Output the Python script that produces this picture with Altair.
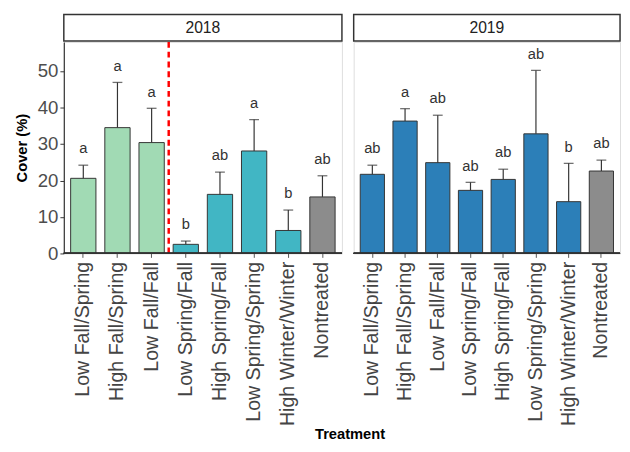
import altair as alt
import pandas as pd

treatments = ["Low Fall/Spring", "High Fall/Spring", "Low Fall/Fall", "Low Spring/Fall",
              "High Spring/Fall", "Low Spring/Spring", "High Winter/Winter", "Nontreated"]
group_2018 = ["Fall 2018", "Fall 2018", "Fall 2018", "Spring 2018", "Spring 2018",
              "Spring 2018", "Spring 2018", "Nontreated"]
cover_2018 = [20.6, 34.5, 30.4, 2.5, 16.2, 28.1, 6.3, 15.5]
upper_2018 = [24.2, 46.9, 39.8, 3.4, 22.3, 36.7, 11.9, 21.3]
letters_2018 = ["a", "a", "a", "b", "ab", "a", "b", "ab"]

group_2019 = ["Treated 2019"] * 7 + ["Nontreated"]
cover_2019 = [21.7, 36.3, 24.9, 17.3, 20.3, 32.8, 14.2, 22.6]
upper_2019 = [24.2, 39.7, 37.9, 19.5, 23.1, 50.2, 24.7, 25.6]
letters_2019 = ["ab", "a", "ab", "ab", "ab", "ab", "b", "ab"]

y_ticks = [0, 10, 20, 30, 40, 50]
divider_at = ["Low Spring/Fall"]

group_domain = ["Fall 2018", "Spring 2018", "Treated 2019", "Nontreated"]
group_range = ["#a1dab4", "#41b6c4", "#2c7fb8", "#8c8c8c"]

FONT = "Liberation Sans"
LEFT_W = 284
RIGHT_W = 272
H = 216
INNER = 0.26
OUTER = 0.2
DARK = "#333333"


def panel(year, cover, upper, letters, groups, width, show_y, divider):
    df = pd.DataFrame({"Treatment": treatments, "Cover": cover, "Upper": upper,
                       "Letter": letters, "Group": groups})
    step = width / (len(treatments) - INNER + 2 * OUTER)
    xscale = alt.Scale(domain=treatments, paddingInner=INNER, paddingOuter=OUTER)
    xaxis = alt.Axis(title=None, labelAngle=-90, labelFontSize=20, labelColor="#444444",
                     labelFont=FONT, tickColor="#555555", tickSize=4, labelPadding=4,
                     domain=False, grid=False)
    x = alt.X("Treatment:N", sort=treatments, scale=xscale, axis=xaxis)
    yscale = alt.Scale(domain=[0, 58], nice=False, zero=True)
    if show_y:
        yaxis = alt.Axis(values=y_ticks, title="Cover (%)", titleFontSize=15,
                         titleFontWeight="bold", titleColor="black", titleFont=FONT,
                         labelFontSize=19, labelColor="#4d4d4d", labelFont=FONT,
                         tickColor=DARK, tickSize=4, domainColor=DARK, domainWidth=1.2,
                         grid=False, labelPadding=2, titlePadding=8)
    else:
        yaxis = None
    base = alt.Chart(df)
    bars = base.mark_bar(stroke=DARK, strokeWidth=1).encode(
        x=x,
        y=alt.Y("Cover:Q", scale=yscale, axis=yaxis),
        color=alt.Color("Group:N", scale=alt.Scale(domain=group_domain, range=group_range),
                        legend=None),
    )
    err = base.mark_rule(color=DARK, strokeWidth=1.2).encode(
        x=x, y=alt.Y("Cover:Q", scale=yscale), y2="Upper:Q")
    cap = base.mark_tick(color=DARK, thickness=1.3, size=10).encode(
        x=x, y=alt.Y("Upper:Q", scale=yscale))
    txt = base.mark_text(fontSize=15, font=FONT, color="#333333", dy=-12,
                         baseline="alphabetic").encode(
        x=x, y=alt.Y("Upper:Q", scale=yscale), text="Letter:N")
    baseline_rule = base.mark_rule(color=DARK, strokeWidth=1.2).encode(
        y=alt.Y(datum=0, scale=yscale))
    hdr_df = pd.DataFrame({"Year": [str(year)]})
    hdr_box = alt.Chart(hdr_df).mark_rect(fill="white", stroke=DARK, strokeWidth=1.5).encode(
        x=alt.value(0), x2=alt.value(width), y=alt.value(-28), y2=alt.value(-1))
    hdr_txt = alt.Chart(hdr_df).mark_text(fontSize=16, font=FONT, color="#222222",
                                          baseline="middle").encode(
        x=alt.value(width / 2), y=alt.value(-14.5), text="Year:N")
    layers = [bars, err, cap, txt]
    if divider:
        ddf = pd.DataFrame({"Treatment": divider_at})
        div = alt.Chart(ddf).mark_rule(color="red", strokeWidth=2.5, strokeDash=[6, 4],
                                       xOffset=-INNER * step / 2).encode(
            x=alt.X("Treatment:N", sort=treatments, scale=xscale, bandPosition=0))
        layers.append(div)
    layers += [baseline_rule, hdr_box, hdr_txt]
    return alt.layer(*layers).properties(width=width, height=H)


left = panel(2018, cover_2018, upper_2018, letters_2018, group_2018, LEFT_W, True, True)
right = panel(2019, cover_2019, upper_2019, letters_2019, group_2019, RIGHT_W, False, False)

chart = alt.hconcat(left, right, spacing=8).properties(
    title=alt.TitleParams("Treatment", orient="bottom", anchor="middle", fontSize=15,
                          fontWeight="bold", font=FONT, color="black", offset=1, dx=33),
    padding={"left": 6, "top": 0, "right": 0, "bottom": 0},
).configure_view(stroke=None).configure(font=FONT)

chart.save("out.html", embed_options={"renderer": "svg", "actions": False})
